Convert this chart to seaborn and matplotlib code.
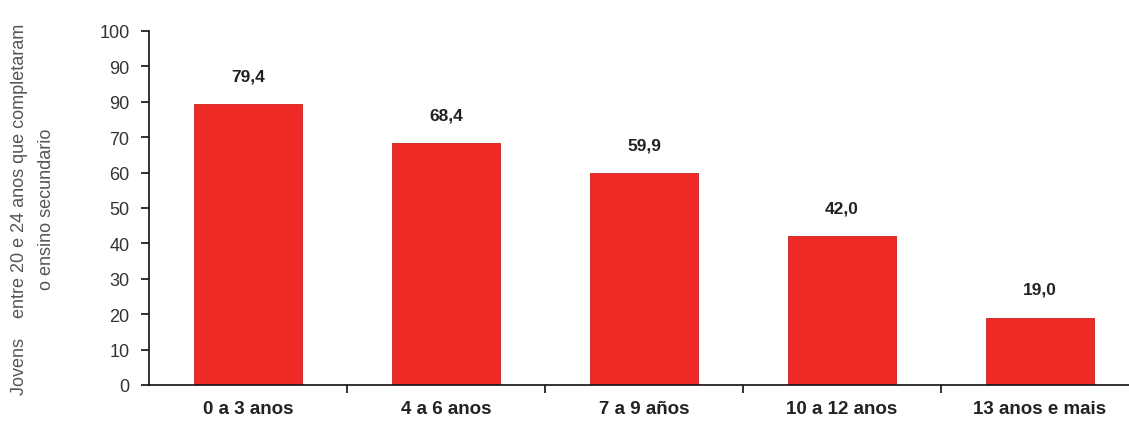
import matplotlib
matplotlib.use("Agg")
import matplotlib.pyplot as plt
import seaborn as sns
import pandas as pd

categories = ["0 a 3 anos", "4 a 6 anos", "7 a 9 años", "10 a 12 anos", "13 anos e mais"]
values = [79.4, 68.4, 59.9, 42.0, 19.0]
y_ticks = [0, 10, 20, 30, 40, 50, 60, 70, 80, 90, 100]
y_tick_labels = ["0", "10", "20", "30", "40", "50", "60", "70", "90", "90", "100"]
y_label = "Jovens    entre 20 e 24 anos que completaram\no ensino secundario"

sns.set_style("white")
plt.rcParams["font.family"] = ["Liberation Sans Narrow", "Liberation Sans", "DejaVu Sans"]

df = pd.DataFrame({"cat": categories, "val": values})

fig = plt.figure(figsize=(11.29, 4.35), dpi=100)
ax = fig.add_axes([149 / 1129, 49 / 435, 990 / 1129, 354 / 435])

sns.barplot(data=df, x="cat", y="val", color="#ee2a26", saturation=1,
            width=0.55, edgecolor="#c8201c", linewidth=0.6, ax=ax)

ax.set_xlim(-0.5, 4.5)
ax.set_ylim(0, 100)
ax.set_yticks(y_ticks)
ax.set_yticklabels(y_tick_labels, fontsize=13, color="#333333")
ax.set_xticks(range(len(categories)))
ax.set_xticklabels(categories, fontsize=13.5, fontweight="bold", color="#222222")
ax.set_xticks([i + 0.5 for i in range(4)], minor=True)
ax.tick_params(axis="x", which="major", bottom=False, length=0, pad=11)
ax.tick_params(axis="x", which="minor", bottom=True, length=6, width=1.2,
               color="#111111", direction="out")
ax.tick_params(axis="y", left=True, length=6, width=1.2, color="#111111",
               direction="out", pad=8)
ax.set_xlabel("")
ax.set_ylabel(y_label, fontsize=13, color="#555555", labelpad=32, linespacing=1.75)

for side in ["top", "right"]:
    ax.spines[side].set_visible(False)
for side in ["left", "bottom"]:
    ax.spines[side].set_color("#111111")
    ax.spines[side].set_linewidth(1.2)

labels = [f"{v:.1f}".replace(".", ",") for v in values]
ax.bar_label(ax.containers[0], labels=labels, padding=15, fontsize=12.5,
             fontweight="bold", color="#222222")

fig.savefig("out.png", dpi=100)
